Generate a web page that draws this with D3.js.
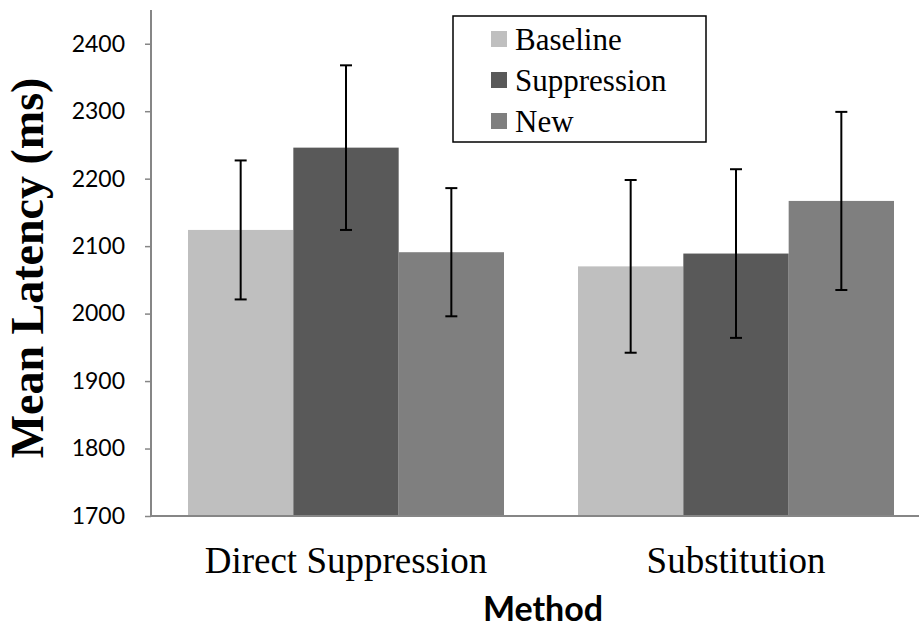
<!DOCTYPE html>
<html>
<head>
<meta charset="utf-8">
<script src="https://cdn.jsdelivr.net/npm/d3@7"></script>
<style>
  html, body { margin: 0; padding: 0; background: #ffffff; }
  svg { display: block; }
</style>
</head>
<body>
<svg id="chart" width="919" height="627"></svg>
<script>
// ---- data ----
const categories = ["Direct Suppression", "Substitution"];
const seriesNames = ["Baseline", "Suppression", "New"];
const baselineValues = [2124, 2070];
const suppressionValues = [2246, 2089];
const newValues = [2091, 2167];
const baselineErrors = [103, 128];
const suppressionErrors = [122, 125];
const newErrors = [95, 132];
const yTicks = [1700, 1800, 1900, 2000, 2100, 2200, 2300, 2400];
const yTitle = "Mean Latency (ms)";
const xTitle = "Method";

const seriesValues = [baselineValues, suppressionValues, newValues];
const seriesErrors = [baselineErrors, suppressionErrors, newErrors];
const colors = ["#bfbfbf", "#595959", "#7f7f7f"];

const svg = d3.select("#chart");
const M = {left: 151, right: 931, top: 10, bottom: 516};

const y = d3.scaleLinear().domain([1700, 2450]).range([M.bottom, M.top]);
const x0 = d3.scaleBand().domain(categories).range([M.left, M.right]).padding(0);
const x1 = d3.scaleBand().domain(seriesNames).range([37, x0.bandwidth() - 37]).padding(0);

const rows = [];
categories.forEach((c, ci) => {
  seriesNames.forEach((s, si) => {
    rows.push({cat: c, ser: s, si, v: seriesValues[si][ci], e: seriesErrors[si][ci]});
  });
});

// bars
svg.append("g").selectAll("rect").data(rows).join("rect")
  .attr("x", d => x0(d.cat) + x1(d.ser))
  .attr("y", d => y(d.v))
  .attr("width", x1.bandwidth())
  .attr("height", d => y(1700) - y(d.v))
  .attr("fill", d => colors[d.si]);

// y axis
const yAxis = d3.axisLeft(y).tickValues(yTicks).tickSize(6).tickPadding(20).tickFormat(d3.format("d"));
const gy = svg.append("g").attr("transform", `translate(${M.left},0)`).call(yAxis);
gy.select(".domain").remove();
gy.append("line").attr("x1", 0).attr("x2", 0).attr("y1", M.top).attr("y2", M.bottom)
  .attr("stroke", "#868686").attr("stroke-width", 2);
gy.selectAll(".tick line").attr("stroke", "#868686").attr("stroke-width", 1.5);
gy.selectAll(".tick text").attr("font-family", "Lato, 'Open Sans', sans-serif")
  .attr("font-size", 23).attr("fill", "#000");

// x axis line
svg.append("line").attr("x1", M.left).attr("x2", 919).attr("y1", M.bottom).attr("y2", M.bottom)
  .attr("stroke", "#868686").attr("stroke-width", 2);

// category labels
const xAxis = d3.axisBottom(x0).tickSize(0).tickPadding(31);
const gx = svg.append("g").attr("transform", `translate(0,${M.bottom})`).call(xAxis);
gx.select(".domain").remove();
gx.selectAll(".tick text").attr("font-family", "'Liberation Serif', 'Times New Roman', serif")
  .attr("font-size", 37).attr("fill", "#000").attr("dy", "0.71em");

// error bars
const eb = svg.append("g").attr("stroke", "#000").attr("stroke-width", 2);
rows.forEach(d => {
  const cx = x0(d.cat) + x1(d.ser) + x1.bandwidth() / 2;
  const y1 = y(d.v + d.e), y2 = y(d.v - d.e);
  eb.append("line").attr("x1", cx).attr("x2", cx).attr("y1", y1).attr("y2", y2);
  eb.append("line").attr("x1", cx - 6).attr("x2", cx + 6).attr("y1", y1).attr("y2", y1);
  eb.append("line").attr("x1", cx - 6).attr("x2", cx + 6).attr("y1", y2).attr("y2", y2);
});

// x title
svg.append("text").attr("x", 543).attr("y", 621)
  .attr("text-anchor", "middle").attr("font-family", "Lato, 'Open Sans', sans-serif")
  .attr("font-weight", "bold").attr("font-size", 34).attr("fill", "#000").text(xTitle);

// y title
svg.append("text").attr("transform", "translate(43,268) rotate(-90)")
  .attr("text-anchor", "middle").attr("font-family", "'Liberation Serif', 'Times New Roman', serif")
  .attr("font-weight", "bold").attr("font-size", 46).attr("fill", "#000").text(yTitle);

// legend
const lg = svg.append("g");
lg.append("rect").attr("x", 453).attr("y", 16).attr("width", 253).attr("height", 126)
  .attr("fill", "#fff").attr("stroke", "#000").attr("stroke-width", 1.5);
const rowY = [39, 80, 121];
seriesNames.forEach((s, i) => {
  lg.append("rect").attr("x", 491).attr("y", rowY[i] - 8).attr("width", 16).attr("height", 16).attr("fill", colors[i]);
  lg.append("text").attr("x", 515).attr("y", rowY[i]).attr("dy", "0.35em")
    .attr("font-family", "'Liberation Serif', 'Times New Roman', serif").attr("font-size", 31)
    .attr("fill", "#000").text(s);
});
</script>
</body>
</html>
